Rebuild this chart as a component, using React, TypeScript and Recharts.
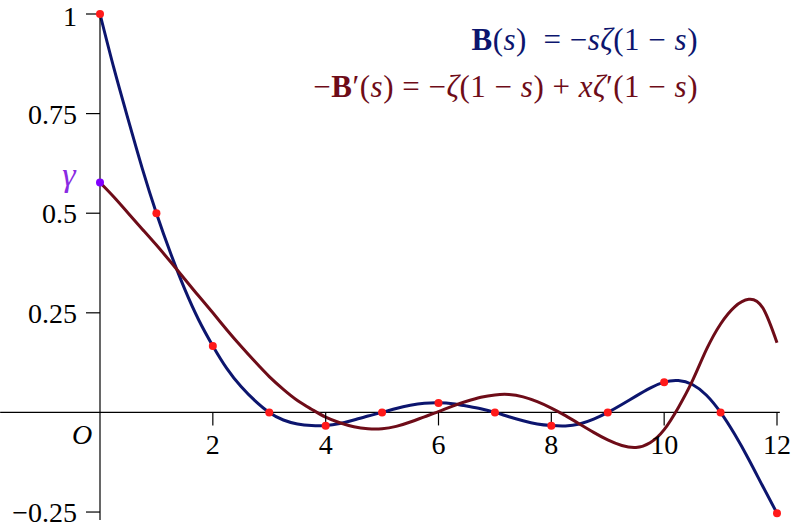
import React from "react";
import {
  ComposedChart,
  Line,
  Scatter,
  XAxis,
  YAxis,
  ReferenceLine,
  ReferenceDot,
} from "recharts";

// s grid (step 0.25) and values
const sValues = [
  0, 0.25, 0.5, 0.75, 1, 1.25, 1.5, 1.75, 2, 2.25, 2.5, 2.75, 3, 3.25, 3.5, 3.75,
  4, 4.25, 4.5, 4.75, 5, 5.25, 5.5, 5.75, 6, 6.25, 6.5, 6.75, 7, 7.25, 7.5, 7.75,
  8, 8.25, 8.5, 8.75, 9, 9.25, 9.5, 9.75, 10, 10.25, 10.5, 10.75, 11, 11.25, 11.5,
  11.75, 12,
];
// B(s) = -s zeta(1-s)
const bValues = [
  1, 0.862, 0.735, 0.612, 0.5, 0.4, 0.31, 0.232, 0.167, 0.11, 0.065, 0.029, 0,
  -0.019, -0.029, -0.033, -0.033, -0.028, -0.019, -0.009, 0, 0.01, 0.018, 0.023,
  0.024, 0.022, 0.016, 0.009, 0, -0.011, -0.021, -0.029, -0.033, -0.034, -0.029,
  -0.017, 0, 0.02, 0.041, 0.061, 0.076, 0.08, 0.07, 0.043, 0, -0.055, -0.118,
  -0.186, -0.253,
];
// -B'(s)
const negDerivValues = [
  0.577, 0.54, 0.5, 0.46, 0.42, 0.378, 0.335, 0.292, 0.25, 0.207, 0.166, 0.127,
  0.09, 0.058, 0.03, 0.008, -0.012, -0.026, -0.036, -0.041, -0.041, -0.035,
  -0.024, -0.011, 0.002, 0.016, 0.028, 0.038, 0.044, 0.045, 0.039, 0.027, 0.011,
  -0.008, -0.029, -0.05, -0.069, -0.083, -0.088, -0.076, -0.043, 0.012, 0.079,
  0.158, 0.222, 0.265, 0.284, 0.262, 0.175,
];

// red dots at the integers
const dotS = [0, 1, 2, 3, 4, 5, 6, 7, 8, 9, 10, 11, 12];
const dotB = [
  1, 0.5, 0.1667, 0, -0.0333, 0, 0.0238, 0, -0.0333, 0, 0.0758, 0, -0.2531,
];

const gammaValue = 0.5772;
const yTicks = [-0.25, 0.25, 0.5, 0.75, 1];
const xTicks = [2, 4, 6, 8, 10, 12];
const xAxisExtent = [-1.77, 12.05];

const lineData = sValues.map((s, i) => ({
  s,
  b: bValues[i],
  nb: negDerivValues[i],
}));
const dotData = dotS.map((s, i) => ({ s, v: dotB[i] }));

const FONT = "'Liberation Serif', 'DejaVu Serif', serif";
const BLUE = "#0c156e";
const DARKRED = "#6e0c18";
const VIOLET = "#8a2be2";

const XTick = (props: any) => {
  const { cx, cy, label } = props;
  return (
    <g>
      <line x1={cx} y1={cy} x2={cx} y2={cy + 13} stroke="#000" strokeWidth={1.2} />
      <text x={cx} y={cy + 42} textAnchor="middle" fontFamily={FONT} fontSize={28} fill="#000">
        {label}
      </text>
    </g>
  );
};

const OriginLabel = (props: any) => (
  <text
    x={props.cx - 18}
    y={props.cy + 32}
    textAnchor="middle"
    fontFamily={FONT}
    fontStyle="italic"
    fontSize={28}
    fill="#000"
  >
    O
  </text>
);

const GammaDot = (props: any) => (
  <g>
    <circle cx={props.cx} cy={props.cy} r={4} fill="#8000ff" />
    <text
      x={props.cx - 31}
      y={props.cy + 4}
      textAnchor="middle"
      fontFamily={FONT}
      fontStyle="italic"
      fontSize={34}
      fill={VIOLET}
    >
      γ
    </text>
  </g>
);

const RedDot = (props: any) => (
  <circle cx={props.cx} cy={props.cy} r={4} fill="#ff1a1a" />
);

export default function App() {
  return (
    <div style={{ position: "absolute", left: 0, top: 0, width: 794, height: 529, background: "#fff" }}>
      <ComposedChart
        width={794}
        height={529}
        data={lineData}
        margin={{ top: 14, right: 17, bottom: 9, left: 0 }}
      >
        <XAxis type="number" dataKey="s" domain={[0, 12]} hide />
        <YAxis
          type="number"
          domain={[-0.27, 1]}
          ticks={yTicks}
          width={100}
          tickSize={14}
          tickMargin={9}
          axisLine={{ stroke: "#000", strokeWidth: 1.2 }}
          tickLine={{ stroke: "#000", strokeWidth: 1.2 }}
          tick={{ fontFamily: FONT, fontSize: 28, fill: "#000" }}
          tickFormatter={(v: number) => (v < 0 ? "\u22120.25" : String(v))}
        />
        <ReferenceLine
          segment={[
            { x: xAxisExtent[0], y: 0 },
            { x: xAxisExtent[1], y: 0 },
          ]}
          stroke="#000"
          strokeWidth={1.2}
          ifOverflow="visible"
        />
        {xTicks.map((t) => (
          <ReferenceDot
            key={t}
            x={t}
            y={0}
            ifOverflow="visible"
            shape={(p: any) => <XTick {...p} label={String(t)} />}
          />
        ))}
        <ReferenceDot x={0} y={0} ifOverflow="visible" shape={<OriginLabel />} />
        <Line
          type="natural"
          dataKey="b"
          stroke={BLUE}
          strokeWidth={3}
          dot={false}
          activeDot={false}
          isAnimationActive={false}
        />
        <Line
          type="natural"
          dataKey="nb"
          stroke={DARKRED}
          strokeWidth={3}
          dot={false}
          activeDot={false}
          isAnimationActive={false}
        />
        <Scatter data={dotData} dataKey="v" shape={<RedDot />} isAnimationActive={false} />
        <ReferenceDot x={0} y={gammaValue} ifOverflow="visible" shape={<GammaDot />} />
      </ComposedChart>
      <div
        style={{
          position: "absolute",
          right: 96,
          top: 22,
          fontFamily: FONT,
          fontSize: 31,
          letterSpacing: 0.5,
          color: BLUE,
          whiteSpace: "nowrap",
          textAlign: "right",
        }}
      >
        <b>B</b>(<i>s</i>)&nbsp;&nbsp;= −<i>s</i>
        <i>ζ</i>(1 − <i>s</i>)
      </div>
      <div
        style={{
          position: "absolute",
          right: 96,
          top: 69,
          fontFamily: FONT,
          fontSize: 31,
          letterSpacing: 0.5,
          color: DARKRED,
          whiteSpace: "nowrap",
          textAlign: "right",
        }}
      >
        −<b>B</b>′(<i>s</i>) = −<i>ζ</i>(1 − <i>s</i>) + <i>xζ</i>′(1 − <i>s</i>)
      </div>
    </div>
  );
}
